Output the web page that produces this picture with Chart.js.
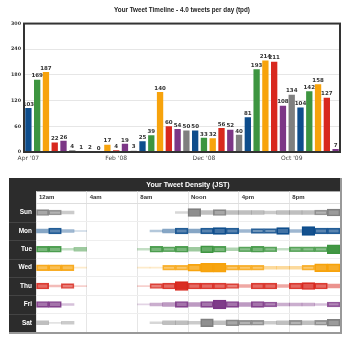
<!DOCTYPE html>
<html>
<head>
<meta charset="utf-8">
<script src="https://cdn.jsdelivr.net/npm/chart.js@4"></script>
<style>
  html, body { margin: 0; padding: 0; background: #fff; }
  #timeline { position: absolute; left: 0; top: 0; }
  #density { position: absolute; left: 0; top: 172px; }
</style>
</head>
<body>
<canvas id="timeline" width="350" height="172"></canvas>
<canvas id="density" width="350" height="168"></canvas>
<script>
// --- timeline data ---
const months = [
  "Apr '07", "May '07", "Jun '07", "Jul '07", "Aug '07", "Sep '07", "Oct '07", "Nov '07", "Dec '07",
  "Jan '08", "Feb '08", "Mar '08", "Apr '08", "May '08", "Jun '08", "Jul '08", "Aug '08", "Sep '08",
  "Oct '08", "Nov '08", "Dec '08", "Jan '09", "Feb '09", "Mar '09", "Apr '09", "May '09", "Jun '09",
  "Jul '09", "Aug '09", "Sep '09", "Oct '09", "Nov '09", "Dec '09", "Jan '10", "Feb '10", "Mar '10",
];
const tweetCounts = [
  103, 169, 187, 22, 26, 4, 1, 2, 0, 17, 4, 19, 3, 25, 39, 140, 60, 54,
  50, 50, 33, 32, 56, 52, 40, 81, 193, 214, 211, 108, 134, 104, 142, 158, 127, 7,
];
const countTicks = [0, 60, 120, 180, 240, 300];

// --- density data (relative weight per hour, 0-10) ---
const days = ["Sun", "Mon", "Tue", "Wed", "Thu", "Fri", "Sat"];
const hourLabels = ["12am", "4am", "8am", "Noon", "4pm", "8pm"];
const sunDensity = [6, 5, 3, 0, 0, 0, 0, 0, 0, 0, 0, 2, 8, 4, 6, 4, 4, 4, 3, 4, 4, 4, 5, 7];
const monDensity = [4, 6, 3, 1, 0, 0, 0, 0, 0, 2, 4, 6, 4, 6, 7, 6, 3, 5, 5, 7, 3, 9, 6, 6];
const tueDensity = [6, 6, 2, 4, 0, 0, 0, 0, 2, 6, 5, 6, 4, 7, 6, 3, 5, 6, 5, 2, 5, 5, 5, 9];
const wedDensity = [6, 6, 6, 1, 0, 0, 0, 0, 1, 1, 5, 5, 7, 9, 9, 5, 5, 5, 3, 3, 3, 5, 8, 8];
const thuDensity = [6, 2, 5, 1, 0, 0, 0, 0, 1, 5, 6, 9, 6, 6, 6, 5, 3, 6, 6, 3, 6, 7, 6, 4];
const friDensity = [6, 6, 2, 0, 0, 0, 0, 0, 1, 3, 4, 6, 4, 6, 9, 6, 4, 6, 5, 3, 3, 3, 2, 5];
const satDensity = [4, 1, 3, 0, 0, 0, 0, 0, 0, 2, 4, 4, 3, 8, 4, 6, 5, 5, 3, 4, 5, 4, 5, 7];
const densityRows = [sunDensity, monDensity, tueDensity, wedDensity, thuDensity, friDensity, satDensity];

// --- styles ---
const palette = {
  blue: "#0e4d8c",
  green: "#3d9540",
  orange: "#f7a30c",
  red: "#d8281e",
  purple: "#7c3686",
  gray: "#7f7f7f",
};
const barColorKeys = [
  "blue", "green", "orange", "red", "purple", "gray", "blue", "green", "green",
  "orange", "red", "purple", "gray", "blue", "green", "orange", "red", "purple",
  "gray", "blue", "green", "orange", "red", "purple", "gray", "blue", "green",
  "orange", "red", "purple", "gray", "blue", "green", "orange", "red", "purple",
];
const dayColorKeys = ["gray", "blue", "green", "orange", "red", "purple", "gray"];

function rgba(hex, alpha) {
  const n = parseInt(hex.slice(1), 16);
  return `rgba(${(n >> 16) & 255}, ${(n >> 8) & 255}, ${n & 255}, ${alpha})`;
}

const sans = "'Liberation Sans', Arial, sans-serif";
const verd = "'DejaVu Sans', Verdana, sans-serif";

// --- timeline chart ---
const timelineFrame = {
  id: "timelineFrame",
  afterDatasetsDraw(chart) {
    const { ctx, chartArea: a } = chart;
    ctx.save();
    ctx.strokeStyle = "#333";
    ctx.lineWidth = 2;
    ctx.strokeRect(a.left, a.top, a.right - a.left, a.bottom - a.top);
    ctx.restore();
  },
};

const valueLabels = {
  id: "valueLabels",
  afterDatasetsDraw(chart) {
    const { ctx } = chart;
    const meta = chart.getDatasetMeta(0);
    ctx.save();
    ctx.font = `bold 5.5px ${verd}`;
    ctx.fillStyle = "#333";
    ctx.textAlign = "center";
    ctx.textBaseline = "bottom";
    meta.data.forEach((bar, i) => {
      ctx.fillText(String(tweetCounts[i]), bar.x, bar.y - 1);
    });
    ctx.restore();
  },
};

new Chart(document.getElementById("timeline"), {
  type: "bar",
  data: {
    labels: months,
    datasets: [
      {
        data: tweetCounts,
        backgroundColor: barColorKeys.map((k) => palette[k]),
        categoryPercentage: 0.8,
        barPercentage: 0.9,
      },
    ],
  },
  options: {
    responsive: false,
    animation: false,
    layout: { padding: { top: 2, right: 10, bottom: 0, left: 0 } },
    plugins: {
      legend: { display: false },
      tooltip: { enabled: false },
      title: {
        display: true,
        text: "Your Tweet Timeline - 4.0 tweets per day (tpd)",
        fullSize: false,
        color: "#222",
        font: { family: sans, size: 6.3, weight: "bold" },
        padding: { top: 4, bottom: 10 },
      },
    },
    scales: {
      x: {
        grid: { display: false, drawTicks: false },
        border: { display: false },
        afterFit: (scale) => {
          scale.height = 20;
        },
        ticks: {
          autoSkip: false,
          maxRotation: 0,
          padding: 3,
          color: "#444",
          font: { family: verd, size: 6 },
          callback: (value, i) => (i % 10 === 0 ? months[i] : ""),
        },
      },
      y: {
        min: 0,
        max: 300,
        afterBuildTicks: (scale) => {
          scale.ticks = countTicks.map((v) => ({ value: v }));
        },
        afterFit: (scale) => {
          scale.width = 24;
        },
        grid: { color: "#e6e6e6", drawTicks: false },
        border: { display: false },
        ticks: {
          padding: 3,
          color: "#333",
          font: { family: verd, size: 4.8, weight: "bold" },
        },
      },
    },
  },
  plugins: [timelineFrame, valueLabels],
});

// --- density chart ---
const thickness = (v) => Math.max(1, v - 0.2);
const opacity = (v) => Math.min(1, 0.12 + 0.095 * v);

const densitySets = [];
for (let v = 1; v <= 10; v++) {
  const cells = [];
  densityRows.forEach((row, d) => {
    row.forEach((value, h) => {
      if (value === v) cells.push({ x: [h, h + 1], y: days[d] });
    });
  });
  if (!cells.length) continue;
  densitySets.push({
    data: cells,
    grouped: false,
    barThickness: thickness(v),
    borderSkipped: false,
    borderWidth: v >= 5 ? 1 : 0,
    backgroundColor: (ctx) => rgba(palette[dayColorKeys[days.indexOf(ctx.raw.y)]], opacity(v)),
    borderColor: (ctx) => rgba(palette[dayColorKeys[days.indexOf(ctx.raw.y)]], Math.min(1, opacity(v) + 0.2)),
  });
}

const densityFrame = {
  id: "densityFrame",
  beforeDraw(chart) {
    const { ctx, chartArea: a } = chart;
    const y = chart.scales.y;
    const t = chart.titleBlock;
    ctx.save();
    ctx.fillStyle = "#2c2c2c";
    ctx.fillRect(y.left, t.top, a.right - y.left, t.bottom - t.top);
    ctx.fillRect(y.left, t.top, a.left - y.left, a.bottom - t.top);
    ctx.strokeStyle = "#444";
    ctx.lineWidth = 1;
    for (let i = 1; i < days.length; i++) {
      const py = Math.round((y.getPixelForValue(i - 1) + y.getPixelForValue(i)) / 2) + 0.5;
      ctx.beginPath();
      ctx.moveTo(y.left, py);
      ctx.lineTo(a.left, py);
      ctx.stroke();
    }
    ctx.restore();
  },
  afterDraw(chart) {
    const { ctx, chartArea: a } = chart;
    const y = chart.scales.y;
    ctx.save();
    ctx.strokeStyle = "#999";
    ctx.lineWidth = 2;
    ctx.beginPath();
    ctx.moveTo(y.left, a.bottom + 1);
    ctx.lineTo(a.right + 1, a.bottom + 1);
    ctx.lineTo(a.right + 1, chart.titleBlock.top);
    ctx.stroke();
    ctx.restore();
  },
};

new Chart(document.getElementById("density"), {
  type: "bar",
  data: { labels: days, datasets: densitySets },
  options: {
    responsive: false,
    animation: false,
    indexAxis: "y",
    layout: { padding: { top: 6, right: 10, bottom: 8, left: 9 } },
    plugins: {
      legend: { display: false },
      tooltip: { enabled: false },
      title: {
        display: true,
        text: "Your Tweet Density (JST)",
        fullSize: false,
        color: "#fff",
        font: { family: sans, size: 7, weight: "bold" },
        padding: { top: 3, bottom: 2 },
      },
    },
    scales: {
      x: {
        type: "linear",
        position: "top",
        min: 0,
        max: 24,
        afterBuildTicks: (scale) => {
          scale.ticks = [0, 4, 8, 12, 16, 20, 24].map((v) => ({ value: v }));
        },
        afterFit: (scale) => {
          scale.height = 12;
        },
        grid: { color: "#e6e6e6", tickColor: "#e6e6e6", tickLength: 12 },
        border: { color: "#dedede" },
        ticks: {
          align: "start",
          labelOffset: 3,
          padding: -10,
          color: "#333",
          font: { family: sans, size: 6, weight: "bold" },
          callback: (value) => hourLabels[value / 4] ?? "",
        },
      },
      y: {
        type: "category",
        labels: days,
        afterFit: (scale) => {
          scale.width = 27;
        },
        grid: { color: "#eeeeee", drawTicks: false },
        border: { display: false },
        ticks: {
          padding: 4,
          color: "#fff",
          font: { family: sans, size: 6.5, weight: "bold" },
        },
      },
    },
  },
  plugins: [densityFrame],
});
</script>
</body>
</html>
